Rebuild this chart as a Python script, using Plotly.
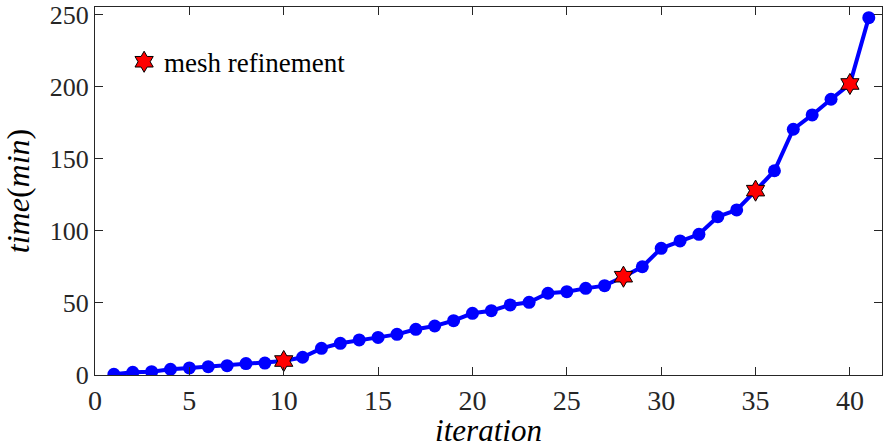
import plotly.graph_objects as go

iterations = list(range(1, 42))
time_min = [0.5, 1.9, 2.3, 4.0, 4.9, 5.8, 6.5, 7.9, 8.3, 9.7,
            12.3, 18.5, 22.0, 24.3, 26.1, 28.2, 31.7, 34.0, 37.7, 42.8,
            44.6, 48.6, 50.4, 56.7, 57.8, 60.1, 62.0, 68.2, 75.1, 87.9,
            93.0, 97.6, 109.8, 114.5, 127.9, 141.7, 170.5, 180.4, 191.3, 201.9,
            247.9]
refine_iters = [10, 28, 35, 40]
refine_times = [time_min[i - 1] for i in refine_iters]

x_ticks = [0, 5, 10, 15, 20, 25, 30, 35, 40]
y_ticks = [0, 50, 100, 150, 200, 250]

font_family = "'Liberation Serif', 'Times New Roman', serif"
axis_col = "#262626"

fig = go.Figure()
fig.add_trace(go.Scatter(
    x=iterations, y=time_min, mode="lines+markers",
    line=dict(color="#0000FF", width=4),
    marker=dict(color="#0000FF", size=13, symbol="circle"),
    showlegend=False, name="time"))
fig.add_trace(go.Scatter(
    x=refine_iters, y=refine_times, mode="markers",
    marker=dict(color="#FF0000", size=16, symbol="hexagram",
                line=dict(color="#000000", width=1)),
    name="mesh refinement", showlegend=True))

fig.update_layout(
    width=883, height=448,
    margin=dict(l=95, r=1, t=7, b=73),
    paper_bgcolor="white", plot_bgcolor="white",
    font=dict(family=font_family, size=28, color=axis_col),
    legend=dict(x=0.037, y=0.85, xanchor="left", yanchor="middle",
                bgcolor="rgba(0,0,0,0)", borderwidth=0,
                font=dict(family=font_family, size=27, color="#000000"),
                itemwidth=30),
    xaxis=dict(range=[0, 41.7], tickvals=x_ticks, ticks="inside", ticklen=8,
               tickcolor=axis_col, showline=True, linecolor=axis_col, linewidth=1,
               mirror="allticks", showgrid=False, zeroline=False,
               tickfont=dict(family=font_family, size=28, color=axis_col),
               title=dict(text="<i>iteration</i>", font=dict(family=font_family, size=31, color="#000000"), standoff=9)),
    yaxis=dict(range=[0, 255.3], tickvals=y_ticks, ticks="inside", ticklen=8,
               tickcolor=axis_col, showline=True, linecolor=axis_col, linewidth=1,
               mirror="allticks", showgrid=False, zeroline=False,
               tickfont=dict(family=font_family, size=26, color=axis_col),
               title=dict(text="<i>time</i>(<i>min</i>)", font=dict(family=font_family, size=32, color="#000000"), standoff=10)),
)

fig.write_html("out.html", config={"displayModeBar": False},
               post_script="document.body.style.margin='0';")
